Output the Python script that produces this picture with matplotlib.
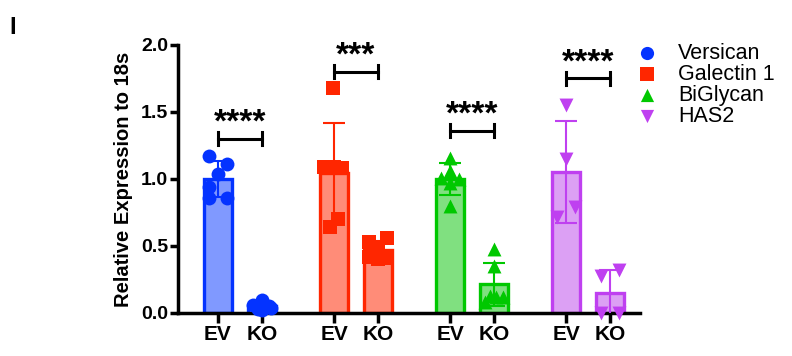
import matplotlib
matplotlib.use("Agg")
import matplotlib.pyplot as plt
import numpy as np

plt.rcParams['font.family'] = ['Liberation Sans', 'DejaVu Sans']

genes = ["Versican", "Galectin 1", "BiGlycan", "HAS2"]
groups = ["EV", "KO"]
versican_ev = [1.175, 1.115, 1.04, 0.94, 0.855, 0.86]
versican_ko = [0.10, 0.06, 0.04, 0.03, 0.05, 0.02]
galectin_ev = [1.68, 1.09, 1.09, 1.08, 0.70, 0.64]
galectin_ko = [0.56, 0.53, 0.48, 0.42, 0.41, 0.40]
biglycan_ev = [1.16, 1.06, 1.01, 1.00, 0.97, 0.80]
biglycan_ko = [0.48, 0.35, 0.13, 0.12, 0.12, 0.08]
has2_ev = [1.55, 1.15, 0.79, 0.72]
has2_ko = [0.275, 0.32, 0.0, 0.0]
stars = ["****", "***", "****", "****"]
bracket_y = [1.30, 1.80, 1.36, 1.75]

edge_colors = ["#0433FF", "#FF2600", "#00C800", "#BF40F0"]
fill_colors = ["#8099FF", "#FF8C78", "#80E080", "#DCA0F4"]
markers = ["o", "s", "^", "v"]

# horizontal scatter offsets of the points (style only)
jitter = [
    ([-0.2, 0.2, 0.0, -0.2, -0.2, 0.2], [0.0, -0.2, 0.2, -0.1, 0.15, 0.0]),
    ([-0.02, -0.23, 0.0, 0.18, 0.1, -0.1], [0.2, -0.2, 0.0, -0.2, 0.2, 0.0]),
    ([0.0, 0.0, -0.2, 0.2, 0.0, 0.0], [0.0, 0.0, -0.1, 0.05, 0.2, -0.2]),
    ([0.0, 0.0, 0.2, -0.2], [-0.2, 0.2, -0.2, 0.2]),
]

data = [(versican_ev, versican_ko), (galectin_ev, galectin_ko),
        (biglycan_ev, biglycan_ko), (has2_ev, has2_ko)]

fig = plt.figure(figsize=(7.92, 3.56), dpi=100)
ax = fig.add_axes([0.2247, 0.1208, 0.808 - 0.2247, 0.8736 - 0.1208])

spacing = 2.64
width = 0.64
xticks = []
xlabels = []
handles = []
for i, (ev, ko) in enumerate(data):
    for j, vals in enumerate((ev, ko)):
        x = i * spacing + j
        vals = np.array(vals)
        m = vals.mean()
        sd = vals.std(ddof=1)
        ax.bar(x, m, width=width, color=fill_colors[i], edgecolor=edge_colors[i],
               linewidth=2.4, zorder=2)
        ax.errorbar(x, m, yerr=sd, color=edge_colors[i], capsize=8,
                    elinewidth=1.5, capthick=1.5, zorder=3)
        h = ax.scatter(x + np.array(jitter[i][j]), vals, marker=markers[i],
                       color=edge_colors[i], s=100, zorder=4, clip_on=False,
                       linewidths=0)
        xticks.append(x)
        xlabels.append(groups[j])
    handles.append(h)
    # significance bracket
    x0, x1 = i * spacing, i * spacing + 1
    y = bracket_y[i]
    ax.plot([x0, x1], [y, y], color="black", lw=2.2, zorder=5)
    for xx in (x0, x1):
        ax.plot([xx, xx], [y - 0.05, y + 0.05], color="black", lw=2.2, zorder=5)
    ax.text((x0 + x1) / 2, y + 0.0, stars[i], ha="center", va="bottom",
            fontsize=24, fontweight="bold")

ax.set_xlim(-0.91, 9.6)
ax.set_ylim(0, 2.0)
ax.set_yticks([0.0, 0.5, 1.0, 1.5, 2.0])
ax.set_yticklabels(["0.0", "0.5", "1.0", "1.5", "2.0"], fontsize=14, fontweight="bold")
ax.set_xticks(xticks)
ax.set_xticklabels(xlabels, fontsize=15, fontweight="bold")
ax.set_ylabel("Relative Expression to 18s", fontsize=14.5, fontweight="bold", labelpad=6)
for s in ("top", "right"):
    ax.spines[s].set_visible(False)
for s in ("left", "bottom"):
    ax.spines[s].set_linewidth(2.5)
ax.tick_params(axis="both", width=2.5, length=7, pad=2)
ax.tick_params(axis="y", length=6, pad=1)

leg = ax.legend(handles, genes, loc="upper left", bbox_to_anchor=(0.945, 1.08),
                frameon=False, fontsize=15.5, handletextpad=0.85, labelspacing=0.0,
                markerscale=0.95, handlelength=1.2)

fig.text(0.012, 0.955, "I", fontsize=17, fontweight="bold", va="top")

fig.savefig("out.png", dpi=100)
